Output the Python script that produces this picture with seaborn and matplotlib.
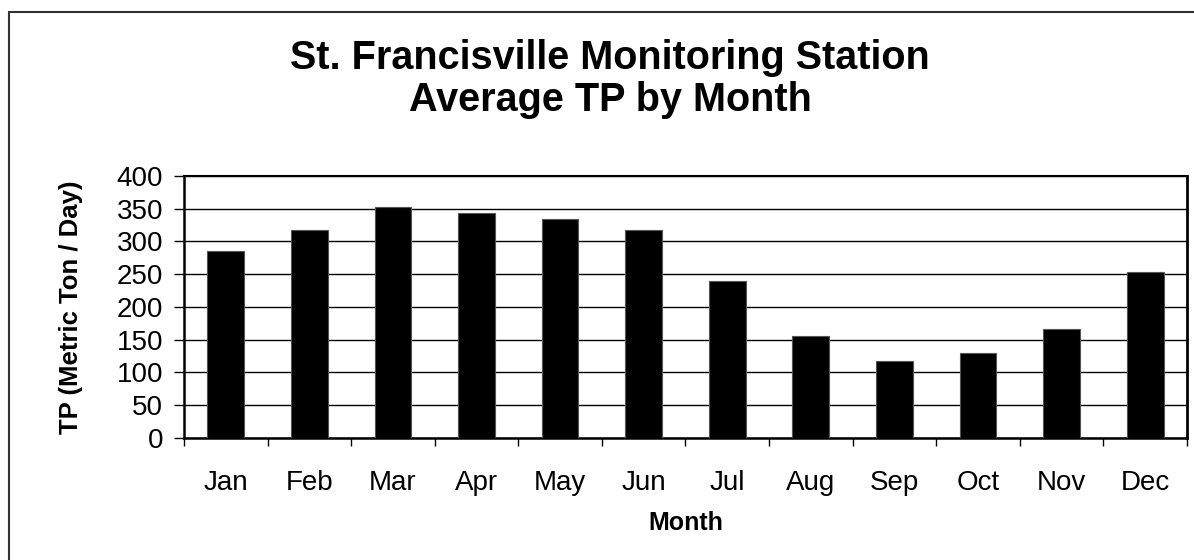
import matplotlib
matplotlib.use('Agg')
import matplotlib.pyplot as plt
from matplotlib.patches import Rectangle
import numpy as np
import pandas as pd
import seaborn as sns

months = ['Jan', 'Feb', 'Mar', 'Apr', 'May', 'Jun', 'Jul', 'Aug', 'Sep', 'Oct', 'Nov', 'Dec']
avg_tp = [285, 318, 352, 343, 334, 318, 239, 156, 117, 129, 166, 254]
y_ticks = [0, 50, 100, 150, 200, 250, 300, 350, 400]
title_lines = ['St. Francisville Monitoring Station', 'Average TP by Month']

data = pd.DataFrame({'Month': months, 'TP': avg_tp})

sns.set_style('white')
plt.rcParams['font.family'] = ['Liberation Sans', 'DejaVu Sans']
plt.rcParams['text.color'] = 'black'
plt.rcParams['axes.labelcolor'] = 'black'
plt.rcParams['xtick.color'] = 'black'
plt.rcParams['ytick.color'] = 'black'

fig = plt.figure(figsize=(11.94, 5.6), dpi=100)
ax = fig.add_axes([0.1541, 0.2184, 0.8400, 0.4673])

sns.barplot(data=data, x='Month', y='TP', color='black', width=0.44,
            edgecolor='#555555', linewidth=0.8, saturation=1, ax=ax, zorder=3)

ax.set_xlim(-0.5, 11.5)
ax.set_ylim(0, 400)
ax.set_yticks(y_ticks)
ax.yaxis.grid(True, color='black', linewidth=1.0, zorder=0)
ax.set_axisbelow(True)

# tick marks sit between the categories, labels in the middle
ax.set_xticks(np.arange(len(months)))
ax.set_xticklabels(months)
ax.set_xticks(np.arange(len(months) + 1) - 0.5, minor=True)
ax.tick_params(axis='x', which='major', length=0, pad=23, labelsize=20)
ax.tick_params(axis='x', which='minor', length=6, width=1, direction='out', bottom=True)
ax.tick_params(axis='y', length=7, width=1, direction='out', left=True, pad=8, labelsize=20)

for side in ['left', 'right', 'top', 'bottom']:
    ax.spines[side].set_visible(True)
    ax.spines[side].set_color('black')
ax.spines['left'].set_linewidth(1.8)
ax.spines['bottom'].set_linewidth(1.8)
ax.spines['right'].set_linewidth(2.0)
ax.spines['top'].set_linewidth(1.5)

ax.set_xlabel('Month', fontsize=18, fontweight='bold', labelpad=11)
ax.set_ylabel('TP (Metric Ton / Day)', fontsize=18.5, fontweight='bold', labelpad=24)

fig.text(0.511, 0.897, title_lines[0], ha='center', va='center', fontsize=28.5, fontweight='bold')
fig.text(0.511, 0.822, title_lines[1], ha='center', va='center', fontsize=28.5, fontweight='bold')

fig.patches.append(Rectangle((9 / 1194, -0.1), 1.2, 1 - 12 / 560 + 0.1, transform=fig.transFigure,
                             fill=False, edgecolor='#333333', linewidth=1.5))

fig.savefig('out.png', dpi=100)
